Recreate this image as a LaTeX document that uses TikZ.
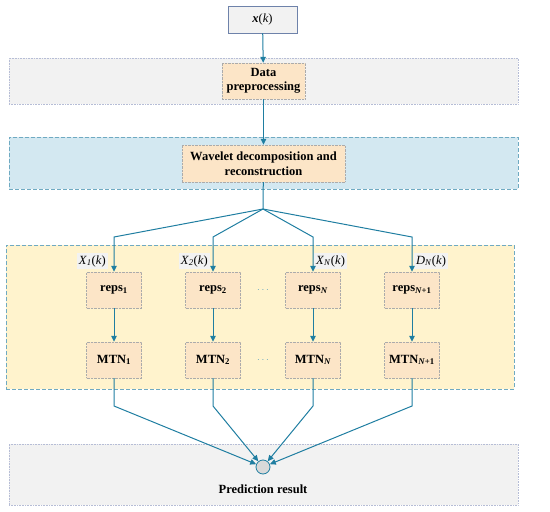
\documentclass[tikz,border=0pt]{standalone}
\usepackage{fontspec}
\setmainfont{Liberation Serif}
\usetikzlibrary{arrows.meta}
\definecolor{linkc}{HTML}{1F7EA1}
\definecolor{grayfill}{HTML}{F2F2F2}
\definecolor{bluefill}{HTML}{D3E8F1}
\definecolor{yellowfill}{HTML}{FFF3CD}
\definecolor{procfill}{HTML}{FCE5C7}
\definecolor{bandgray}{HTML}{B6BDD6}
\definecolor{banddash}{HTML}{6FAAC2}
\definecolor{boxline}{HTML}{ABABAB}
\definecolor{inline}{HTML}{6E82AA}
\begin{document}
\begin{tikzpicture}[x=1pt, y=-1pt, font=\fontsize{12.5}{14}\selectfont,
  band/.style={inner sep=0pt, line width=0.6pt},
  proc/.style={draw=boxline, densely dotted, fill=procfill, inner sep=0pt, align=center, font=\fontsize{12.5}{14.5}\selectfont\bfseries},
  link/.style={draw=linkc, line width=1pt},
  tip/.style={-{Triangle[length=6pt,width=5.5pt]}},
  sig/.style={fill=grayfill, inner sep=2pt}]
\useasboundingbox (0,0) rectangle (550,512);
% background bands
\node[band, fill=grayfill, draw=bandgray, densely dotted, minimum width=509pt, minimum height=46pt] (preband) at (263.5,81) {};
\node[band, fill=bluefill, draw=banddash, dash pattern=on 4pt off 2pt, minimum width=509pt, minimum height=52pt] (wavband) at (263.5,163) {};
\node[band, fill=yellowfill, draw=banddash, dash pattern=on 4pt off 2pt, minimum width=508pt, minimum height=144pt] (mtnband) at (260,317) {};
\node[band, fill=grayfill, draw=bandgray, densely dotted, minimum width=509pt, minimum height=61pt] (outband) at (263.5,474.5) {};
% input and processing boxes
\node[draw=inline, fill=grayfill, line width=0.7pt, minimum width=69pt, minimum height=27pt] (xin) at (262.5,19.5) {\textbf{\textit{x}}(\textit{k})};
\node[proc, minimum width=83pt, minimum height=36pt] (prep) at (263.5,81) {Data\\preprocessing};
\node[proc, minimum width=163pt, minimum height=37pt] (wave) at (263.5,163.5) {Wavelet decomposition and\\reconstruction};
% columns
\node[proc, minimum width=55pt, minimum height=36pt] (reps1) at (114,290) {reps\textsubscript{1}};
\node[proc, minimum width=55pt, minimum height=36pt] (reps2) at (213,290) {reps\textsubscript{2}};
\node[proc, minimum width=55pt, minimum height=36pt] (repsN) at (313,290) {reps\textsubscript{\textit{N}}};
\node[proc, minimum width=55pt, minimum height=36pt] (repsM) at (412,290) {reps\textsubscript{\textit{N}+1}};
\node[proc, minimum width=55pt, minimum height=36pt] (mtn1) at (114,360) {MTN\textsubscript{1}};
\node[proc, minimum width=55pt, minimum height=36pt] (mtn2) at (213,360) {MTN\textsubscript{2}};
\node[proc, minimum width=55pt, minimum height=36pt] (mtnN) at (313,360) {MTN\textsubscript{\textit{N}}};
\node[proc, minimum width=55pt, minimum height=36pt] (mtnM) at (412,360) {MTN\textsubscript{\textit{N}+1}};
\node[text=linkc!70, font=\fontsize{10}{12}\selectfont] (dots1) at (263,290) {$\cdots$};
\node[text=linkc!70, font=\fontsize{10}{12}\selectfont] (dots2) at (263,360) {$\cdots$};
% signal labels
\node[sig, anchor=east] (sig1) at (108,261) {\textit{X}\textsubscript{\textit{1}}(\textit{k})};
\node[sig, anchor=east] (sig2) at (210,261) {\textit{X}\textsubscript{\textit{2}}(\textit{k})};
\node[sig, anchor=west] (sigN) at (314,261) {\textit{X}\textsubscript{\textit{N}}(\textit{k})};
\node[sig, anchor=west] (sigM) at (414,261) {\textit{D}\textsubscript{\textit{N}}(\textit{k})};
% output
\node[circle, draw=linkc, fill=gray!30, line width=0.8pt, minimum size=14pt, inner sep=0pt] (sum) at (263,467) {};
\node[font=\fontsize{12.5}{14}\selectfont\bfseries] (res) at (263,489) {Prediction result};
% connectors
\coordinate (fork) at (263,209);
\coordinate (k1) at (114,237);
\coordinate (k2) at (213,237);
\coordinate (kN) at (313,237);
\coordinate (kM) at (412,237);
\coordinate (j1) at (114,406);
\coordinate (j2) at (213,406);
\coordinate (jN) at (313,406);
\coordinate (jM) at (412,406);
\draw[link, tip] (xin) -- (prep);
\draw[link, tip] (prep) -- (wave);
\draw[link] (wave) -- (fork);
\draw[link, tip] (fork) -- (k1) -- (reps1);
\draw[link, tip] (fork) -- (k2) -- (reps2);
\draw[link, tip] (fork) -- (kN) -- (repsN);
\draw[link, tip] (fork) -- (kM) -- (repsM);
\draw[link, tip] (reps1) -- (mtn1);
\draw[link, tip] (reps2) -- (mtn2);
\draw[link, tip] (repsN) -- (mtnN);
\draw[link, tip] (repsM) -- (mtnM);
\draw[link, tip] (mtn1) -- (j1) -- (sum);
\draw[link, tip] (mtn2) -- (j2) -- (sum);
\draw[link, tip] (mtnN) -- (jN) -- (sum);
\draw[link, tip] (mtnM) -- (jM) -- (sum);
\end{tikzpicture}
\end{document}
